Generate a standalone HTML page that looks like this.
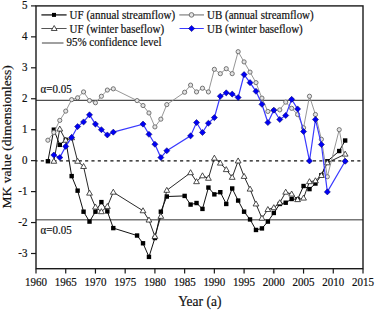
<!DOCTYPE html>
<html><head><meta charset="utf-8"><style>
html,body{margin:0;padding:0;background:#fff;width:375px;height:310px;overflow:hidden}
svg{position:absolute;left:0;top:0}
.tk{font-family:"Liberation Serif",serif;font-size:12px;fill:#111;stroke:#111;stroke-width:0.2px}
.lab{font-family:"Liberation Serif",serif;font-size:15px;fill:#111;stroke:#111;stroke-width:0.2px}
</style></head><body>
<svg width="375" height="310" viewBox="0 0 375 310">
<line x1="36.0" y1="100.3" x2="363.0" y2="100.3" stroke="#222" stroke-width="1.0"/>
<line x1="36.0" y1="219.8" x2="363.0" y2="219.8" stroke="#777" stroke-width="1.5"/>
<line x1="36.0" y1="160.90" x2="363.0" y2="160.90" stroke="#111" stroke-width="1.2" stroke-dasharray="3.1,3.23" stroke-dashoffset="-4.8"/>
<polyline points="47.89,161.25 53.84,129.68 59.78,144.85 65.73,139.89 71.67,176.11 77.62,190.65 83.56,211.70 89.51,221.60 95.45,211.70 101.40,202.10 107.35,211.39 113.29,228.10 137.07,235.53 143.02,243.27 148.96,256.89 154.91,238.01 160.85,211.70 166.80,196.53 184.64,195.91 190.58,204.58 196.53,203.03 202.47,208.91 208.42,187.56 214.36,194.37 220.31,192.20 226.25,203.96 232.20,188.49 238.15,200.56 244.09,211.70 250.04,219.44 255.98,229.96 261.93,228.41 267.87,221.60 273.82,212.94 279.76,203.96 285.71,202.72 291.65,199.01 297.60,199.32 303.55,186.01 309.49,189.10 315.44,183.53 321.38,175.18 327.33,161.25 339.22,151.04 345.16,140.51" fill="none" stroke="#111" stroke-width="1.0"/>
<g fill="#000"><rect x="45.69" y="159.05" width="4.4" height="4.4"/><rect x="51.64" y="127.48" width="4.4" height="4.4"/><rect x="57.58" y="142.65" width="4.4" height="4.4"/><rect x="63.53" y="137.69" width="4.4" height="4.4"/><rect x="69.47" y="173.91" width="4.4" height="4.4"/><rect x="75.42" y="188.45" width="4.4" height="4.4"/><rect x="81.36" y="209.50" width="4.4" height="4.4"/><rect x="87.31" y="219.40" width="4.4" height="4.4"/><rect x="93.25" y="209.50" width="4.4" height="4.4"/><rect x="99.20" y="199.90" width="4.4" height="4.4"/><rect x="105.15" y="209.19" width="4.4" height="4.4"/><rect x="111.09" y="225.90" width="4.4" height="4.4"/><rect x="134.87" y="233.33" width="4.4" height="4.4"/><rect x="140.82" y="241.07" width="4.4" height="4.4"/><rect x="146.76" y="254.69" width="4.4" height="4.4"/><rect x="152.71" y="235.81" width="4.4" height="4.4"/><rect x="158.65" y="209.50" width="4.4" height="4.4"/><rect x="164.60" y="194.33" width="4.4" height="4.4"/><rect x="182.44" y="193.71" width="4.4" height="4.4"/><rect x="188.38" y="202.38" width="4.4" height="4.4"/><rect x="194.33" y="200.83" width="4.4" height="4.4"/><rect x="200.27" y="206.71" width="4.4" height="4.4"/><rect x="206.22" y="185.36" width="4.4" height="4.4"/><rect x="212.16" y="192.17" width="4.4" height="4.4"/><rect x="218.11" y="190.00" width="4.4" height="4.4"/><rect x="224.05" y="201.76" width="4.4" height="4.4"/><rect x="230.00" y="186.29" width="4.4" height="4.4"/><rect x="235.95" y="198.36" width="4.4" height="4.4"/><rect x="241.89" y="209.50" width="4.4" height="4.4"/><rect x="247.84" y="217.24" width="4.4" height="4.4"/><rect x="253.78" y="227.76" width="4.4" height="4.4"/><rect x="259.73" y="226.21" width="4.4" height="4.4"/><rect x="265.67" y="219.40" width="4.4" height="4.4"/><rect x="271.62" y="210.74" width="4.4" height="4.4"/><rect x="277.56" y="201.76" width="4.4" height="4.4"/><rect x="283.51" y="200.52" width="4.4" height="4.4"/><rect x="289.45" y="196.81" width="4.4" height="4.4"/><rect x="295.40" y="197.12" width="4.4" height="4.4"/><rect x="301.35" y="183.81" width="4.4" height="4.4"/><rect x="307.29" y="186.91" width="4.4" height="4.4"/><rect x="313.24" y="181.33" width="4.4" height="4.4"/><rect x="319.18" y="172.98" width="4.4" height="4.4"/><rect x="325.13" y="159.05" width="4.4" height="4.4"/><rect x="337.02" y="148.84" width="4.4" height="4.4"/><rect x="342.96" y="138.31" width="4.4" height="4.4"/></g>
<polyline points="53.84,161.25 59.78,129.06 65.73,140.20 71.67,137.73 77.62,161.25 83.56,166.51 89.51,193.13 95.45,207.06 101.40,211.70 107.35,206.44 113.29,192.20 143.02,210.77 148.96,220.06 154.91,236.46 160.85,216.34 166.80,190.34 190.58,172.70 196.53,181.68 202.47,175.80 208.42,178.27 214.36,158.16 220.31,163.11 226.25,169.61 232.20,177.34 238.15,160.94 244.09,176.42 250.04,189.10 255.98,203.96 261.93,218.20 267.87,209.53 273.82,207.68 279.76,202.72 285.71,192.20 291.65,194.06 297.60,199.63 303.55,198.08 309.49,181.68 315.44,180.75 321.38,175.49 327.33,162.80 345.16,154.13" fill="none" stroke="#111" stroke-width="0.9"/>
<g fill="#fff" stroke="#222" stroke-width="0.8"><path d="M53.84,158.25L56.74,163.25L50.94,163.25Z"/><path d="M59.78,126.06L62.68,131.06L56.88,131.06Z"/><path d="M65.73,137.20L68.63,142.20L62.83,142.20Z"/><path d="M71.67,134.73L74.57,139.73L68.77,139.73Z"/><path d="M77.62,158.25L80.52,163.25L74.72,163.25Z"/><path d="M83.56,163.51L86.46,168.51L80.66,168.51Z"/><path d="M89.51,190.13L92.41,195.13L86.61,195.13Z"/><path d="M95.45,204.06L98.35,209.06L92.55,209.06Z"/><path d="M101.40,208.70L104.30,213.70L98.50,213.70Z"/><path d="M107.35,203.44L110.25,208.44L104.45,208.44Z"/><path d="M113.29,189.20L116.19,194.20L110.39,194.20Z"/><path d="M143.02,207.77L145.92,212.77L140.12,212.77Z"/><path d="M148.96,217.06L151.86,222.06L146.06,222.06Z"/><path d="M154.91,233.46L157.81,238.46L152.01,238.46Z"/><path d="M160.85,213.34L163.75,218.34L157.95,218.34Z"/><path d="M166.80,187.34L169.70,192.34L163.90,192.34Z"/><path d="M190.58,169.70L193.48,174.70L187.68,174.70Z"/><path d="M196.53,178.68L199.43,183.68L193.63,183.68Z"/><path d="M202.47,172.80L205.37,177.80L199.57,177.80Z"/><path d="M208.42,175.27L211.32,180.27L205.52,180.27Z"/><path d="M214.36,155.16L217.26,160.16L211.46,160.16Z"/><path d="M220.31,160.11L223.21,165.11L217.41,165.11Z"/><path d="M226.25,166.61L229.15,171.61L223.35,171.61Z"/><path d="M232.20,174.34L235.10,179.34L229.30,179.34Z"/><path d="M238.15,157.94L241.05,162.94L235.25,162.94Z"/><path d="M244.09,173.42L246.99,178.42L241.19,178.42Z"/><path d="M250.04,186.10L252.94,191.10L247.14,191.10Z"/><path d="M255.98,200.96L258.88,205.96L253.08,205.96Z"/><path d="M261.93,215.20L264.83,220.20L259.03,220.20Z"/><path d="M267.87,206.53L270.77,211.53L264.97,211.53Z"/><path d="M273.82,204.68L276.72,209.68L270.92,209.68Z"/><path d="M279.76,199.72L282.66,204.72L276.86,204.72Z"/><path d="M285.71,189.20L288.61,194.20L282.81,194.20Z"/><path d="M291.65,191.06L294.55,196.06L288.75,196.06Z"/><path d="M297.60,196.63L300.50,201.63L294.70,201.63Z"/><path d="M303.55,195.08L306.45,200.08L300.65,200.08Z"/><path d="M309.49,178.68L312.39,183.68L306.59,183.68Z"/><path d="M315.44,177.75L318.34,182.75L312.54,182.75Z"/><path d="M321.38,172.49L324.28,177.49L318.48,177.49Z"/><path d="M327.33,159.80L330.23,164.80L324.43,164.80Z"/><path d="M345.16,151.13L348.06,156.13L342.26,156.13Z"/></g>
<polyline points="47.89,140.20 53.84,132.47 59.78,120.40 65.73,111.11 71.67,99.66 77.62,97.80 83.56,91.92 89.51,100.59 95.45,102.75 101.40,96.25 107.35,90.07 113.29,88.83 137.07,100.59 143.02,105.54 148.96,112.97 154.91,126.90 160.85,119.16 166.80,104.61 184.64,92.23 190.58,85.11 196.53,91.92 202.47,88.21 208.42,91.92 214.36,69.33 220.31,73.66 226.25,68.71 232.20,73.66 238.15,51.69 244.09,61.90 250.04,72.11 255.98,82.64 261.93,98.11 267.87,111.42 273.82,110.18 279.76,109.87 285.71,102.14 291.65,108.33 297.60,114.52 303.55,127.82 309.49,96.25 315.44,114.52 321.38,139.28 327.33,176.72 339.22,129.68 345.16,161.25" fill="none" stroke="#8a8a8a" stroke-width="0.9"/>
<g fill="#e4e4e4" stroke="#666" stroke-width="0.9"><circle cx="47.89" cy="140.20" r="2.1"/><circle cx="53.84" cy="132.47" r="2.1"/><circle cx="59.78" cy="120.40" r="2.1"/><circle cx="65.73" cy="111.11" r="2.1"/><circle cx="71.67" cy="99.66" r="2.1"/><circle cx="77.62" cy="97.80" r="2.1"/><circle cx="83.56" cy="91.92" r="2.1"/><circle cx="89.51" cy="100.59" r="2.1"/><circle cx="95.45" cy="102.75" r="2.1"/><circle cx="101.40" cy="96.25" r="2.1"/><circle cx="107.35" cy="90.07" r="2.1"/><circle cx="113.29" cy="88.83" r="2.1"/><circle cx="137.07" cy="100.59" r="2.1"/><circle cx="143.02" cy="105.54" r="2.1"/><circle cx="148.96" cy="112.97" r="2.1"/><circle cx="154.91" cy="126.90" r="2.1"/><circle cx="160.85" cy="119.16" r="2.1"/><circle cx="166.80" cy="104.61" r="2.1"/><circle cx="184.64" cy="92.23" r="2.1"/><circle cx="190.58" cy="85.11" r="2.1"/><circle cx="196.53" cy="91.92" r="2.1"/><circle cx="202.47" cy="88.21" r="2.1"/><circle cx="208.42" cy="91.92" r="2.1"/><circle cx="214.36" cy="69.33" r="2.1"/><circle cx="220.31" cy="73.66" r="2.1"/><circle cx="226.25" cy="68.71" r="2.1"/><circle cx="232.20" cy="73.66" r="2.1"/><circle cx="238.15" cy="51.69" r="2.1"/><circle cx="244.09" cy="61.90" r="2.1"/><circle cx="250.04" cy="72.11" r="2.1"/><circle cx="255.98" cy="82.64" r="2.1"/><circle cx="261.93" cy="98.11" r="2.1"/><circle cx="267.87" cy="111.42" r="2.1"/><circle cx="273.82" cy="110.18" r="2.1"/><circle cx="279.76" cy="109.87" r="2.1"/><circle cx="285.71" cy="102.14" r="2.1"/><circle cx="291.65" cy="108.33" r="2.1"/><circle cx="297.60" cy="114.52" r="2.1"/><circle cx="303.55" cy="127.82" r="2.1"/><circle cx="309.49" cy="96.25" r="2.1"/><circle cx="315.44" cy="114.52" r="2.1"/><circle cx="321.38" cy="139.28" r="2.1"/><circle cx="327.33" cy="176.72" r="2.1"/><circle cx="339.22" cy="129.68" r="2.1"/><circle cx="345.16" cy="161.25" r="2.1"/></g>
<polyline points="53.84,155.06 59.78,157.54 65.73,146.39 71.67,137.42 77.62,126.59 83.56,121.94 89.51,114.83 95.45,124.11 101.40,129.68 107.35,134.94 113.29,132.16 143.02,124.11 148.96,134.32 154.91,144.23 160.85,157.54 166.80,150.73 190.58,135.87 196.53,122.56 202.47,132.47 208.42,123.18 214.36,117.61 220.31,96.25 226.25,92.85 232.20,94.09 238.15,97.49 244.09,74.59 250.04,82.64 255.98,91.30 261.93,104.30 267.87,122.56 273.82,110.18 279.76,119.47 285.71,115.44 291.65,99.35 297.60,108.94 303.55,131.54 309.49,160.94 315.44,119.47 321.38,144.54 327.33,191.89 345.16,161.25" fill="none" stroke="#3a3aff" stroke-width="1.2"/>
<g fill="#0000f5" stroke="#000060" stroke-width="0.5"><path d="M53.84,152.01L56.89,155.06L53.84,158.11L50.79,155.06Z"/><path d="M59.78,154.49L62.83,157.54L59.78,160.59L56.73,157.54Z"/><path d="M65.73,143.34L68.78,146.39L65.73,149.44L62.68,146.39Z"/><path d="M71.67,134.37L74.72,137.42L71.67,140.47L68.62,137.42Z"/><path d="M77.62,123.54L80.67,126.59L77.62,129.64L74.57,126.59Z"/><path d="M83.56,118.89L86.61,121.94L83.56,124.99L80.51,121.94Z"/><path d="M89.51,111.78L92.56,114.83L89.51,117.88L86.46,114.83Z"/><path d="M95.45,121.06L98.50,124.11L95.45,127.16L92.40,124.11Z"/><path d="M101.40,126.63L104.45,129.68L101.40,132.73L98.35,129.68Z"/><path d="M107.35,131.89L110.40,134.94L107.35,137.99L104.30,134.94Z"/><path d="M113.29,129.11L116.34,132.16L113.29,135.21L110.24,132.16Z"/><path d="M143.02,121.06L146.07,124.11L143.02,127.16L139.97,124.11Z"/><path d="M148.96,131.27L152.01,134.32L148.96,137.37L145.91,134.32Z"/><path d="M154.91,141.18L157.96,144.23L154.91,147.28L151.86,144.23Z"/><path d="M160.85,154.49L163.90,157.54L160.85,160.59L157.80,157.54Z"/><path d="M166.80,147.68L169.85,150.73L166.80,153.78L163.75,150.73Z"/><path d="M190.58,132.82L193.63,135.87L190.58,138.92L187.53,135.87Z"/><path d="M196.53,119.51L199.58,122.56L196.53,125.61L193.48,122.56Z"/><path d="M202.47,129.42L205.52,132.47L202.47,135.52L199.42,132.47Z"/><path d="M208.42,120.13L211.47,123.18L208.42,126.23L205.37,123.18Z"/><path d="M214.36,114.56L217.41,117.61L214.36,120.66L211.31,117.61Z"/><path d="M220.31,93.20L223.36,96.25L220.31,99.30L217.26,96.25Z"/><path d="M226.25,89.80L229.30,92.85L226.25,95.90L223.20,92.85Z"/><path d="M232.20,91.04L235.25,94.09L232.20,97.14L229.15,94.09Z"/><path d="M238.15,94.44L241.20,97.49L238.15,100.54L235.10,97.49Z"/><path d="M244.09,71.54L247.14,74.59L244.09,77.64L241.04,74.59Z"/><path d="M250.04,79.59L253.09,82.64L250.04,85.69L246.99,82.64Z"/><path d="M255.98,88.25L259.03,91.30L255.98,94.35L252.93,91.30Z"/><path d="M261.93,101.25L264.98,104.30L261.93,107.35L258.88,104.30Z"/><path d="M267.87,119.51L270.92,122.56L267.87,125.61L264.82,122.56Z"/><path d="M273.82,107.13L276.87,110.18L273.82,113.23L270.77,110.18Z"/><path d="M279.76,116.42L282.81,119.47L279.76,122.52L276.71,119.47Z"/><path d="M285.71,112.39L288.76,115.44L285.71,118.49L282.66,115.44Z"/><path d="M291.65,96.30L294.70,99.35L291.65,102.40L288.60,99.35Z"/><path d="M297.60,105.89L300.65,108.94L297.60,111.99L294.55,108.94Z"/><path d="M303.55,128.49L306.60,131.54L303.55,134.59L300.50,131.54Z"/><path d="M309.49,157.89L312.54,160.94L309.49,163.99L306.44,160.94Z"/><path d="M315.44,116.42L318.49,119.47L315.44,122.52L312.39,119.47Z"/><path d="M321.38,141.49L324.43,144.54L321.38,147.59L318.33,144.54Z"/><path d="M327.33,188.84L330.38,191.89L327.33,194.94L324.28,191.89Z"/><path d="M345.16,158.20L348.21,161.25L345.16,164.30L342.11,161.25Z"/></g>
<rect x="36.0" y="5.9" width="327.0" height="262.8" fill="none" stroke="#1a1a1a" stroke-width="1.4"/>
<line x1="31" y1="253.50" x2="36.0" y2="253.50" stroke="#1a1a1a" stroke-width="1.2"/>
<text transform="translate(27.50,256.90) scale(0.915,1)" text-anchor="end" class="tk" style="font-size:12.0px">-3</text>
<line x1="31" y1="222.55" x2="36.0" y2="222.55" stroke="#1a1a1a" stroke-width="1.2"/>
<text transform="translate(27.50,225.95) scale(0.915,1)" text-anchor="end" class="tk" style="font-size:12.0px">-2</text>
<line x1="31" y1="191.60" x2="36.0" y2="191.60" stroke="#1a1a1a" stroke-width="1.2"/>
<text transform="translate(27.50,195.00) scale(0.915,1)" text-anchor="end" class="tk" style="font-size:12.0px">-1</text>
<line x1="31" y1="160.65" x2="36.0" y2="160.65" stroke="#1a1a1a" stroke-width="1.2"/>
<text transform="translate(27.50,164.05) scale(0.915,1)" text-anchor="end" class="tk" style="font-size:12.0px">0</text>
<line x1="31" y1="129.70" x2="36.0" y2="129.70" stroke="#1a1a1a" stroke-width="1.2"/>
<text transform="translate(27.50,133.10) scale(0.915,1)" text-anchor="end" class="tk" style="font-size:12.0px">1</text>
<line x1="31" y1="98.75" x2="36.0" y2="98.75" stroke="#1a1a1a" stroke-width="1.2"/>
<text transform="translate(27.50,102.15) scale(0.915,1)" text-anchor="end" class="tk" style="font-size:12.0px">2</text>
<line x1="31" y1="67.80" x2="36.0" y2="67.80" stroke="#1a1a1a" stroke-width="1.2"/>
<text transform="translate(27.50,71.20) scale(0.915,1)" text-anchor="end" class="tk" style="font-size:12.0px">3</text>
<line x1="31" y1="36.85" x2="36.0" y2="36.85" stroke="#1a1a1a" stroke-width="1.2"/>
<text transform="translate(27.50,40.25) scale(0.915,1)" text-anchor="end" class="tk" style="font-size:12.0px">4</text>
<line x1="31" y1="5.90" x2="36.0" y2="5.90" stroke="#1a1a1a" stroke-width="1.2"/>
<text transform="translate(27.50,9.30) scale(0.915,1)" text-anchor="end" class="tk" style="font-size:12.0px">5</text>
<line x1="36.00" y1="268.7" x2="36.00" y2="273.6" stroke="#1a1a1a" stroke-width="1.2"/>
<text transform="translate(36.00,286.20) scale(0.915,1)" text-anchor="middle" class="tk" style="font-size:12.0px">1960</text>
<line x1="65.73" y1="268.7" x2="65.73" y2="273.6" stroke="#1a1a1a" stroke-width="1.2"/>
<text transform="translate(65.73,286.20) scale(0.915,1)" text-anchor="middle" class="tk" style="font-size:12.0px">1965</text>
<line x1="95.45" y1="268.7" x2="95.45" y2="273.6" stroke="#1a1a1a" stroke-width="1.2"/>
<text transform="translate(95.45,286.20) scale(0.915,1)" text-anchor="middle" class="tk" style="font-size:12.0px">1970</text>
<line x1="125.18" y1="268.7" x2="125.18" y2="273.6" stroke="#1a1a1a" stroke-width="1.2"/>
<text transform="translate(125.18,286.20) scale(0.915,1)" text-anchor="middle" class="tk" style="font-size:12.0px">1975</text>
<line x1="154.91" y1="268.7" x2="154.91" y2="273.6" stroke="#1a1a1a" stroke-width="1.2"/>
<text transform="translate(154.91,286.20) scale(0.915,1)" text-anchor="middle" class="tk" style="font-size:12.0px">1980</text>
<line x1="184.64" y1="268.7" x2="184.64" y2="273.6" stroke="#1a1a1a" stroke-width="1.2"/>
<text transform="translate(184.64,286.20) scale(0.915,1)" text-anchor="middle" class="tk" style="font-size:12.0px">1985</text>
<line x1="214.36" y1="268.7" x2="214.36" y2="273.6" stroke="#1a1a1a" stroke-width="1.2"/>
<text transform="translate(214.36,286.20) scale(0.915,1)" text-anchor="middle" class="tk" style="font-size:12.0px">1990</text>
<line x1="244.09" y1="268.7" x2="244.09" y2="273.6" stroke="#1a1a1a" stroke-width="1.2"/>
<text transform="translate(244.09,286.20) scale(0.915,1)" text-anchor="middle" class="tk" style="font-size:12.0px">1995</text>
<line x1="273.82" y1="268.7" x2="273.82" y2="273.6" stroke="#1a1a1a" stroke-width="1.2"/>
<text transform="translate(273.82,286.20) scale(0.915,1)" text-anchor="middle" class="tk" style="font-size:12.0px">2000</text>
<line x1="303.55" y1="268.7" x2="303.55" y2="273.6" stroke="#1a1a1a" stroke-width="1.2"/>
<text transform="translate(303.55,286.20) scale(0.915,1)" text-anchor="middle" class="tk" style="font-size:12.0px">2005</text>
<line x1="333.27" y1="268.7" x2="333.27" y2="273.6" stroke="#1a1a1a" stroke-width="1.2"/>
<text transform="translate(333.27,286.20) scale(0.915,1)" text-anchor="middle" class="tk" style="font-size:12.0px">2010</text>
<line x1="363.00" y1="268.7" x2="363.00" y2="273.6" stroke="#1a1a1a" stroke-width="1.2"/>
<text transform="translate(363.00,286.20) scale(0.915,1)" text-anchor="middle" class="tk" style="font-size:12.0px">2015</text>
<text transform="translate(199.80,305.60) scale(0.9,1)" text-anchor="middle" class="lab" style="font-size:15.0px">Year (a)</text>
<text transform="translate(10.9,136.8) rotate(-90) scale(1.0,1)" text-anchor="middle" class="lab" style="font-size:13.5px">MK value (dimensionless)</text>
<text transform="translate(40.50,93.10) scale(0.915,1)" text-anchor="start" class="tk" style="font-size:12.0px">α</text>
<text transform="translate(46.30,93.10) scale(0.915,1)" text-anchor="start" class="tk" style="font-size:12.0px">=0.05</text>
<text transform="translate(40.50,234.40) scale(0.915,1)" text-anchor="start" class="tk" style="font-size:12.0px">α</text>
<text transform="translate(46.30,234.40) scale(0.915,1)" text-anchor="start" class="tk" style="font-size:12.0px">=0.05</text>
<line x1="41.4" y1="14.9" x2="66.6" y2="14.9" stroke="#3a3a3a" stroke-width="1.5"/>
<rect x="52.0" y="12.9" width="4.0" height="4.0" fill="#000"/>
<text transform="translate(69.60,19.00) scale(0.915,1)" text-anchor="start" class="tk" style="font-size:12.0px">UF (annual streamflow)</text>
<line x1="41.4" y1="28.5" x2="66.6" y2="28.5" stroke="#555" stroke-width="1.0"/>
<path d="M54.20,25.50L57.10,30.50L51.30,30.50Z" fill="#fff" stroke="#222" stroke-width="0.8"/>
<text transform="translate(69.60,32.50) scale(0.915,1)" text-anchor="start" class="tk" style="font-size:12.0px">UF (winter baseflow)</text>
<line x1="41.9" y1="43.0" x2="63.5" y2="43.0" stroke="#808080" stroke-width="1.5"/>
<text transform="translate(66.40,46.10) scale(0.915,1)" text-anchor="start" class="tk" style="font-size:12.0px">95% confidence level</text>
<line x1="179.3" y1="14.9" x2="204" y2="14.9" stroke="#999" stroke-width="1.5"/>
<circle cx="191.5" cy="14.9" r="2.3" fill="#e4e4e4" stroke="#666" stroke-width="0.9"/>
<text transform="translate(207.00,19.00) scale(0.915,1)" text-anchor="start" class="tk" style="font-size:12.0px">UB (annual streamflow)</text>
<line x1="179.5" y1="28.5" x2="203.8" y2="28.5" stroke="#3a3aff" stroke-width="1.0"/>
<path d="M191.6,25.4L194.7,28.5L191.6,31.6L188.5,28.5Z" fill="#0000f5" stroke="#000060" stroke-width="0.5"/>
<text transform="translate(207.00,32.50) scale(0.915,1)" text-anchor="start" class="tk" style="font-size:12.0px">UB (winter baseflow)</text>
</svg></body></html>
